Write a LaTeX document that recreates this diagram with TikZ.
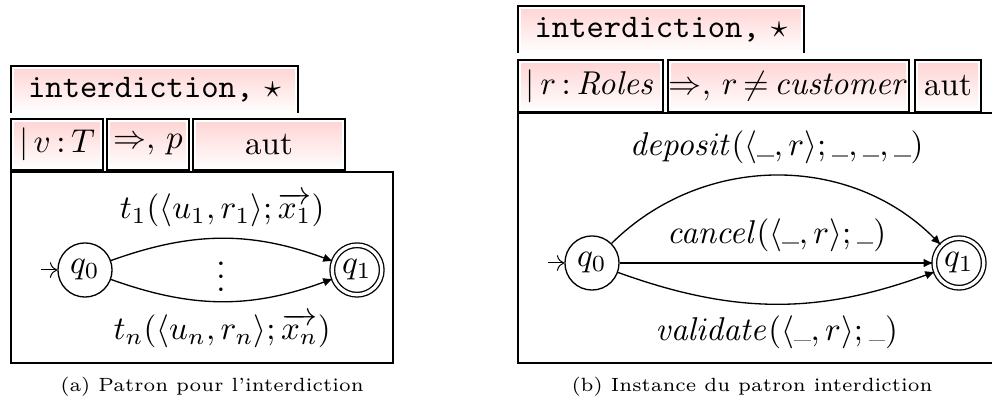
\documentclass[tikz,border=0pt]{standalone}
\usepackage{amsmath,amssymb}
\usetikzlibrary{arrows.meta,positioning}
\definecolor{PatPink}{HTML}{FFD3D3}
\newcommand{\wild}{\mbox{\color{gray}\rule[-0.3pt]{0.5em}{0.5pt}}}

\begin{document}
\begin{tikzpicture}[
    x=0.30303pt,y=-0.30303pt,
    tag/.style={inner sep=0pt,outer sep=0pt,minimum height=15.5pt,
      path picture={\shade[top color=PatPink,bottom color=white]
        ([shift={(1pt,-1pt)}]path picture bounding box.north west) rectangle
        ([shift={(-1pt,1pt)}]path picture bounding box.south east);}},
    tagbox/.style={tag,draw,line width=0.6pt},
    panel/.style={draw,line width=0.6pt,inner sep=0pt,outer sep=0pt},
    loc/.style={circle,draw,line width=0.4pt,minimum size=16.4pt,inner sep=0pt},
    locfin/.style={loc,minimum size=15pt,double,double distance=1pt},
    trans/.style={-{Latex[length=3pt,width=2.6pt]},line width=0.4pt},
    start/.style={->,line width=0.3pt},
    captxt/.style={font=\fontsize{5.8pt}{7pt}\selectfont}
  ]
  \useasboundingbox (0,0) rectangle (992,409);

  % (a) pattern
  \node[tag,minimum width=87pt,minimum height=14.2pt] (hdrA) at (154.5,89.5) {\texttt{interdiction,} $\star$};
  \draw[line width=0.6pt] (hdrA.south west) -- (hdrA.north west) -- (hdrA.north east) -- (hdrA.south east);
  \node[tagbox,minimum width=27.9pt] (varA) at (57,144.5) {$|\,v\,{:}\,T$};
  \node[tagbox,minimum width=24.8pt] (condA) at (148,144.5) {$\Rightarrow,\, p$};
  \node[tagbox,minimum width=46pt] (autA) at (269,144.5) {aut};
  \node[panel,minimum width=115.8pt,minimum height=57.9pt] (boxA) at (202,267.5) {};

  \node[loc] (q0a) at (85,270) {$q_0$};
  \node[locfin] (q1a) at (357,270) {$q_1$};
  \node[inner sep=0pt] (dotsA) at (221,267) {$\vdots$};
  \coordinate[left=5pt of q0a] (inA);
  \draw[start] (inA) -- (q0a);
  \draw[trans] (q0a) to[bend left=20] node[above] {$t_1(\langle u_1, r_1\rangle; \overrightarrow{x_1})$} (q1a);
  \draw[trans] (q0a) to[bend right=20] node[below] {$t_n(\langle u_n, r_n\rangle; \overrightarrow{x_n})$} (q1a);

  % (b) instance
  \node[tag,minimum width=86.7pt,minimum height=14.2pt] (hdrB) at (661,29.5) {\texttt{interdiction,} $\star$};
  \draw[line width=0.6pt] (hdrB.south west) -- (hdrB.north west) -- (hdrB.north east) -- (hdrB.south east);
  \node[tagbox,minimum width=43.9pt,minimum height=15.8pt] (varB) at (590.5,86) {$|\,r\,{:}\,\mathit{Roles}$};
  \node[tagbox,minimum width=73pt,minimum height=15.8pt] (condB) at (788.5,86) {$\Rightarrow,\, r\,{\neq}\,\mathit{customer}$};
  \node[tagbox,minimum width=20pt,minimum height=15.8pt] (autB) at (948,86) {aut};
  \node[panel,minimum width=149pt,minimum height=75.8pt] (boxB) at (764,238) {};

  \node[loc] (q0b) at (592,263) {$q_0$};
  \node[locfin] (q1b) at (959,263) {$q_1$};
  \coordinate[left=5pt of q0b] (inB);
  \draw[start] (inB) -- (q0b);
  \draw[trans] (q0b) to[bend left=45] node[above] {$\mathit{deposit}(\langle \wild, r\rangle; \wild, \wild, \wild)$} (q1b);
  \draw[trans] (q0b) -- node[above] {$\mathit{cancel}(\langle \wild, r\rangle; \wild)$} (q1b);
  \draw[trans] (q0b) to[bend right=20] node[below] {$\mathit{validate}(\langle \wild, r\rangle; \wild)$} (q1b);

  \node[captxt] (capA) at (212,387) {(a) Patron pour l'interdiction};
  \node[captxt] (capB) at (752,387) {(b) Instance du patron interdiction};
\end{tikzpicture}
\end{document}
